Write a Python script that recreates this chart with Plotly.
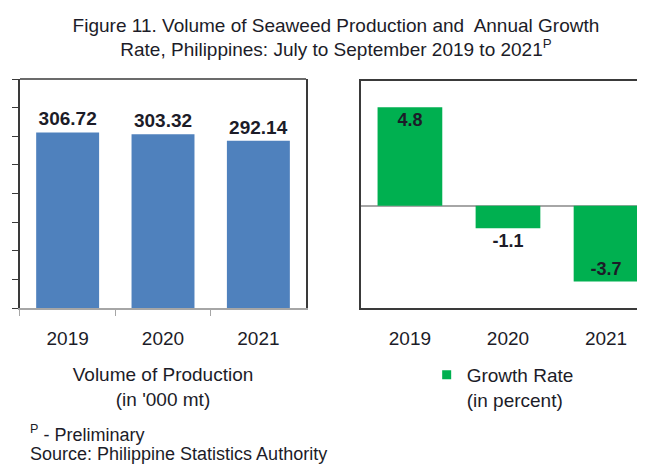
import plotly.graph_objects as go

years = ["2019", "2020", "2021"]
volume = [306.72, 303.32, 292.14]
volume_labels = ["306.72", "303.32", "292.14"]
growth = [4.8, -1.1, -3.7]
growth_labels = ["4.8", "-1.1", "-3.7"]
growth_textpos = ["inside", "outside", "inside"]

# the page places the figure 8px from the window's top-left corner
OFF = 8
W, H = 645 - OFF, 464 - OFF
FONT = "Liberation Sans, Arial, sans-serif"
TXT = "#1c1c28"
BLUE = "#4F81BD"
GREEN = "#00B050"
DARK = "#3a3a3a"
GREY = "#a6a6a6"

def px_x(p):
    return (p - OFF) / W

def px_y(p):
    return 1 - (p - OFF) / H

fig = go.Figure()

fig.add_trace(go.Bar(
    x=years, y=volume, text=volume_labels, textposition="outside",
    marker=dict(color=BLUE, line=dict(width=0)), width=0.66,
    textfont=dict(family=FONT, size=19, color=TXT, weight="bold"),
    constraintext="none", cliponaxis=False, showlegend=False,
    xaxis="x", yaxis="y",
))

fig.add_trace(go.Bar(
    x=years, y=growth, text=growth_labels, textposition=growth_textpos,
    insidetextanchor="end",
    marker=dict(color=GREEN, line=dict(width=0)), width=0.66,
    textfont=dict(family=FONT, size=18, color=TXT, weight="bold"),
    insidetextfont=dict(family=FONT, size=18, color=TXT, weight="bold"),
    outsidetextfont=dict(family=FONT, size=18, color=TXT, weight="bold"),
    constraintext="none", cliponaxis=False, showlegend=False,
    xaxis="x2", yaxis="y2",
))

# legend entry for growth rate
fig.add_trace(go.Scatter(
    x=[None], y=[None], mode="markers", name="Growth Rate<br>(in percent)",
    marker=dict(symbol="square", size=9, color=GREEN),
    xaxis="x2", yaxis="y2", showlegend=True,
))

fig.update_layout(
    width=W, height=H,
    margin=dict(l=0, r=0, t=0, b=0),
    paper_bgcolor="white", plot_bgcolor="white",
    font=dict(family=FONT, color=TXT),
    title=dict(
        text="Figure 11. Volume of Seaweed Production and  Annual Growth<br>Rate, Philippines: July to September 2019 to 2021<sup>P</sup>",
        x=px_x(337), xanchor="center", xref="paper",
        y=1 - 23.5 / H, yanchor="middle", yref="container",
        font=dict(family=FONT, size=19, color=TXT),
    ),
    xaxis=dict(
        domain=[px_x(20), px_x(307)], anchor="y",
        range=[-0.5, 2.5], type="category",
        showline=True, linecolor=GREY, linewidth=1.5, mirror=False,
        ticks="outside", tickson="boundaries", ticklen=6, tickcolor=GREY,
        tickfont=dict(family=FONT, size=19, color=TXT),
        ticklabelstandoff=12,
        showgrid=False, zeroline=False,
        title=dict(text="Volume of Production<br>(in '000 mt)",
                   font=dict(family=FONT, size=19, color=TXT), standoff=20),
    ),
    yaxis=dict(
        domain=[px_y(308), px_y(79)], anchor="x",
        range=[0, 400], dtick=50, tick0=0,
        showline=True, linecolor=DARK, linewidth=1.5, mirror=True,
        ticks="outside", ticklen=6, tickcolor=DARK,
        showticklabels=False, showgrid=False, zeroline=False,
    ),
    xaxis2=dict(
        domain=[px_x(362), 1], anchor="y2",
        range=[-0.5, 2.377], type="category",
        showline=True, linecolor=DARK, linewidth=1.5, mirror=True,
        ticks="", tickfont=dict(family=FONT, size=19, color=TXT),
        ticklabelstandoff=12,
        showgrid=False, zeroline=False,
    ),
    yaxis2=dict(
        domain=[px_y(308), px_y(81)], anchor="x2",
        range=[-4.99, 6.08],
        showline=True, linecolor=DARK, linewidth=1.5, mirror=True,
        ticks="", showticklabels=False, showgrid=False,
        zeroline=True, zerolinecolor=GREY, zerolinewidth=1.5,
    ),
    legend=dict(
        x=px_x(428), xanchor="left", y=px_y(356), yanchor="top",
        valign="top", bgcolor="rgba(0,0,0,0)",
        font=dict(family=FONT, size=19, color=TXT),
        itemclick=False,
    ),
    shapes=[dict(type="line", xref="x domain", yref="y domain",
                 x0=0, x1=1, y0=1, y1=1, line=dict(color=DARK, width=1.5))],
    annotations=[
        dict(text="<sup>P</sup> - Preliminary", xref="paper", yref="paper",
             x=px_x(28), y=px_y(433), xanchor="left", yanchor="middle",
             showarrow=False, font=dict(family=FONT, size=18, color=TXT)),
        dict(text="Source: Philippine Statistics Authority", xref="paper", yref="paper",
             x=px_x(28), y=px_y(454), xanchor="left", yanchor="middle",
             showarrow=False, font=dict(family=FONT, size=18, color=TXT)),
    ],
)

fig.write_html("out.html")
